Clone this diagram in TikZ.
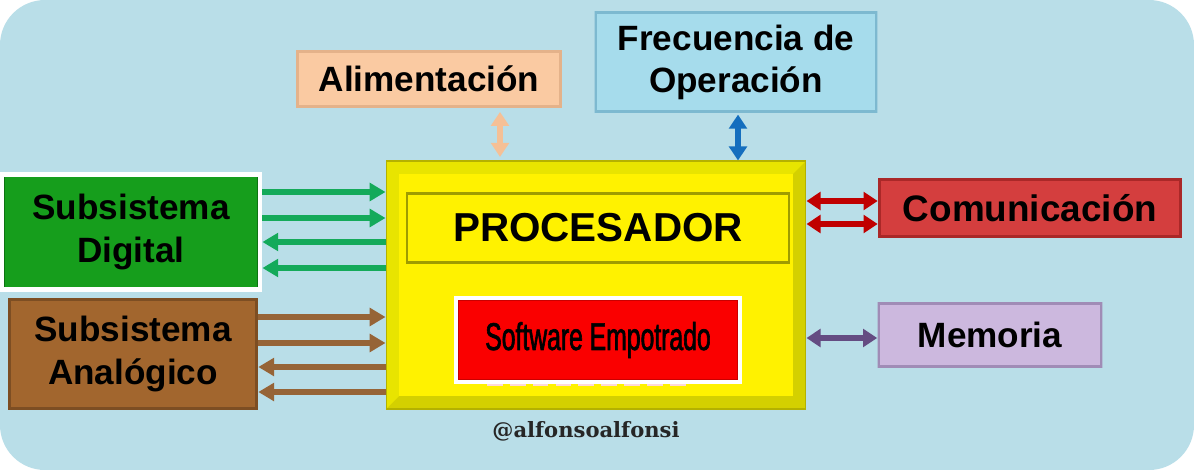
\documentclass[tikz,border=0pt]{standalone}
\usepackage{fontspec}
\setmainfont{Liberation Sans}
\newfontfamily\narrowfont[FakeStretch=0.64,FakeBold=1.6]{Liberation Sans}
\newfontfamily\signfont{DejaVu Serif}
\usetikzlibrary{arrows.meta}

\definecolor{fondo}{RGB}{185,222,232}
\definecolor{verde}{RGB}{22,158,28}
\definecolor{verdeosc}{RGB}{12,115,18}
\definecolor{verdeflecha}{RGB}{20,170,90}
\definecolor{cafe}{RGB}{162,102,46}
\definecolor{cafeosc}{RGB}{125,78,35}
\definecolor{cafeflecha}{RGB}{150,100,55}
\definecolor{amarilloosc}{RGB}{212,208,0}
\definecolor{amarillomed}{RGB}{232,228,0}
\definecolor{rojosw}{RGB}{250,0,0}
\definecolor{rojoswosc}{RGB}{200,0,0}
\definecolor{durazno}{RGB}{250,202,162}
\definecolor{duraznoosc}{RGB}{228,178,138}
\definecolor{duraznoflecha}{RGB}{245,192,150}
\definecolor{celeste}{RGB}{166,220,236}
\definecolor{celesteosc}{RGB}{125,185,208}
\definecolor{azulflecha}{RGB}{20,110,190}
\definecolor{rojocom}{RGB}{212,62,62}
\definecolor{rojocomosc}{RGB}{170,40,40}
\definecolor{rojoflecha}{RGB}{192,0,0}
\definecolor{lila}{RGB}{204,184,222}
\definecolor{lilaosc}{RGB}{160,140,182}
\definecolor{lilaflecha}{RGB}{100,76,130}

\tikzset{
  caja/.style={rectangle, inner sep=0pt, align=center,
    font=\bfseries\fontsize{20pt}{24pt}\selectfont},
  bisel/.style={path picture={
    \draw[line width=3pt,#1] (path picture bounding box.south west)
      rectangle (path picture bounding box.north east);}},
  flecha/.style={line width=3.2pt, -{Triangle[length=9pt,width=10pt]}},
  doble/.style={line width=3.2pt,
    {Triangle[length=8pt,width=10pt]}-{Triangle[length=8pt,width=10pt]}},
  procesador/.style={path picture={
    \fill[amarillomed] (path picture bounding box.north west)
      -- (path picture bounding box.north east)
      -- ([shift={(-7.5pt,-7.5pt)}]path picture bounding box.north east)
      -- ([shift={(7.5pt,-7.5pt)}]path picture bounding box.north west)
      -- ([shift={(7.5pt,7.5pt)}]path picture bounding box.south west)
      -- (path picture bounding box.south west) -- cycle;
    \fill[yellow] ([shift={(7.5pt,-7.5pt)}]path picture bounding box.north west)
      rectangle ([shift={(-7.5pt,7.5pt)}]path picture bounding box.south east);}}
}

\begin{document}
\begin{tikzpicture}[x=0.02cm,y=-0.02cm]
  \useasboundingbox (0,0) rectangle (1194,470);
  % fondo
  \fill[white] (0,0) rectangle (1194,470);
  \fill[fondo, rounded corners=0.9cm] (0,0) rectangle (1194,470);

  % procesador
  \node[rectangle, fill=amarilloosc, draw=amarilloosc!85!black, line width=0.6pt,
    procesador, minimum width=8.4cm, minimum height=4.96cm] (proc) at (596,285) {};
  \node[caja, fill=yellow, draw=amarilloosc!75!black, line width=1.2pt,
    minimum width=7.64cm, minimum height=1.38cm,
    font=\bfseries\fontsize{23pt}{26pt}\selectfont] (nucleo) at (598,228) {PROCESADOR};
  \draw[white!85!red, line width=2pt, dash pattern=on 9pt off 4pt] (487,384) -- (687,384);
  \node[rectangle, fill=rojosw, draw=white, line width=2pt, bisel=rojoswosc,
    minimum width=5.68cm, minimum height=1.68cm,
    font=\narrowfont\fontsize{22pt}{24pt}\selectfont] (sw) at (598,340) {Software Empotrado};

  % subsistemas
  \node[caja, fill=verde, draw=white, line width=2.8pt, bisel=verdeosc,
    minimum width=5.16cm, minimum height=2.3cm] (dig) at (131,232) {Subsistema\\Digital};
  \node[caja, fill=cafe, bisel=cafeosc,
    minimum width=5.0cm, minimum height=2.24cm] (ana) at (133,354) {Subsistema\\Anal\'ogico};

  % cajas de arriba
  \node[caja, fill=durazno, bisel=duraznoosc,
    minimum width=5.32cm, minimum height=1.16cm] (alim) at (429,79) {Alimentaci\'on};
  \node[caja, fill=celeste, bisel=celesteosc,
    minimum width=5.66cm, minimum height=2.02cm] (frec) at (736,62) {Frecuencia de\\Operaci\'on};

  % cajas de la derecha
  \node[caja, fill=rojocom, bisel=rojocomosc, font=\bfseries\fontsize{21pt}{24pt}\selectfont,
    minimum width=6.08cm, minimum height=1.2cm] (com) at (1030,208) {Comunicaci\'on};
  \node[caja, fill=lila, bisel=lilaosc,
    minimum width=4.5cm, minimum height=1.3cm] (mem) at (990,335) {Memoria};

  % flechas digital
  \draw[flecha, verdeflecha] (dig.east |- 0,192) -- (proc.west |- 0,192);
  \draw[flecha, verdeflecha] (dig.east |- 0,218) -- (proc.west |- 0,218);
  \draw[flecha, verdeflecha] (proc.west |- 0,242) -- (dig.east |- 0,242);
  \draw[flecha, verdeflecha] (proc.west |- 0,268) -- (dig.east |- 0,268);
  % flechas analogico
  \draw[flecha, cafeflecha] (ana.east |- 0,317) -- (proc.west |- 0,317);
  \draw[flecha, cafeflecha] (ana.east |- 0,343) -- (proc.west |- 0,343);
  \draw[flecha, cafeflecha] (proc.west |- 0,367) -- (ana.east |- 0,367);
  \draw[flecha, cafeflecha] (proc.west |- 0,392) -- (ana.east |- 0,392);

  % flechas de arriba
  \draw[doble, duraznoflecha, shorten <=2pt, shorten >=2pt] (alim.south -| 500,0) -- (proc.north -| 500,0);
  \draw[doble, azulflecha, shorten <=1pt] (frec.south -| 738,0) -- (proc.north -| 738,0);

  % flechas de la derecha
  \draw[doble, rojoflecha] (proc.east |- 0,201) -- (com.west |- 0,201);
  \draw[doble, rojoflecha] (proc.east |- 0,224) -- (com.west |- 0,224);
  \draw[doble, lilaflecha] (proc.east |- 0,338) -- (mem.west |- 0,338);

  % firma
  \node[font=\signfont\bfseries\fontsize{12pt}{14pt}\selectfont, text=black!85] (firma) at (586,431) {@alfonsoalfonsi};
\end{tikzpicture}
\end{document}
